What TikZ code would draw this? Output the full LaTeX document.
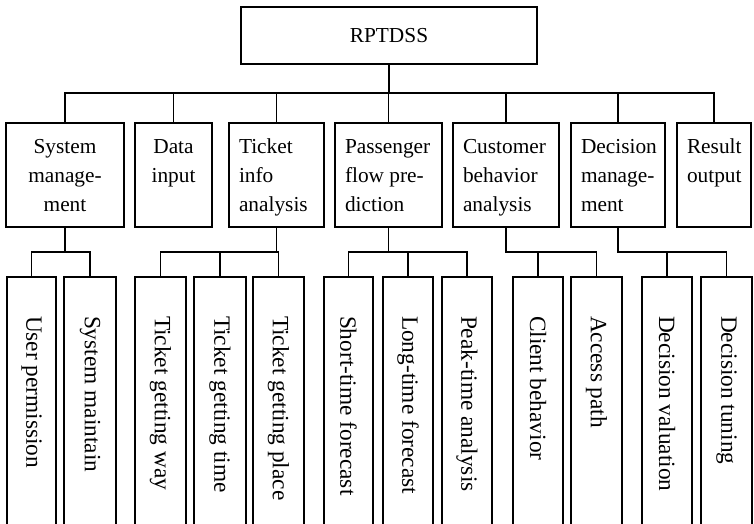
\documentclass[tikz,border=0pt]{standalone}
\usepackage{fontspec}
\setmainfont{Liberation Serif}
\usetikzlibrary{fit}
\begin{document}
\begin{tikzpicture}[x=0.75pt,y=-0.75pt,
  box/.style={draw, line width=1.1pt, inner sep=0pt, outer sep=0pt},
  lbl/.style={inner sep=0pt, outer sep=0pt, font=\fontsize{16}{21.4}\selectfont},
  leaflbl/.style={inner sep=0pt, outer sep=0pt, font=\fontsize{17.5}{21}\selectfont, rotate=-90, anchor=west},
  conn/.style={line width=1.1pt}]
\useasboundingbox (0,0) rectangle (754,524);
\clip (0,0) rectangle (754,524);
% root
\node[box, fit={(241,7)(537,64)}] (root) {};
\node[lbl] (troot) at (root.center) {RPTDSS};
% level 2
\node[box, fit={(6,123)(124,227)}] (sys) {};
\node[box, fit={(135,123)(212,227)}] (data) {};
\node[box, fit={(229,123)(324,227)}] (tick) {};
\node[box, fit={(335,123)(442,227)}] (pass) {};
\node[box, fit={(453,123)(559,227)}] (cust) {};
\node[box, fit={(571,123)(665,227)}] (dec) {};
\node[box, fit={(677,123)(751,227)}] (res) {};
\node[lbl, align=center, anchor=north] (tsys) at (65,134) {\strut System\\manage-\\ment};
\node[lbl, align=center, anchor=north] (tdata) at (173.5,134) {\strut Data\\input};
\node[lbl, align=left, anchor=north west] (ttick) at (239,134) {\strut Ticket\\info\\analysis};
\node[lbl, align=left, anchor=north west] (tpass) at (345,134) {\strut Passenger\\flow pre-\\diction};
\node[lbl, align=left, anchor=north west] (tcust) at (463,134) {\strut Customer\\behavior\\analysis};
\node[lbl, align=left, anchor=north west] (tdec) at (581,134) {\strut Decision\\manage-\\ment};
\node[lbl, align=left, anchor=north west] (tres) at (687,134) {\strut Result\\output};
% leaves
\node[box, fit={(7,277)(56,530)}] (l1) {};
\node[box, fit={(64,277)(116,530)}] (l2) {};
\node[box, fit={(135,277)(186,530)}] (l3) {};
\node[box, fit={(194,277)(246,530)}] (l4) {};
\node[box, fit={(253,277)(304,530)}] (l5) {};
\node[box, fit={(324,277)(373,530)}] (l6) {};
\node[box, fit={(383,277)(433,530)}] (l7) {};
\node[box, fit={(442,277)(492,530)}] (l8) {};
\node[box, fit={(513,277)(563,530)}] (l9) {};
\node[box, fit={(571,277)(622,530)}] (l10) {};
\node[box, fit={(642,277)(692,530)}] (l11) {};
\node[box, fit={(701,277)(752,530)}] (l12) {};
\node[leaflbl] (tl1) at ([yshift=-29.25pt]l1.north) {User permission};
\node[leaflbl] (tl2) at ([yshift=-29.25pt]l2.north) {System maintain};
\node[leaflbl] (tl3) at ([yshift=-29.25pt]l3.north) {Ticket getting way};
\node[leaflbl] (tl4) at ([yshift=-29.25pt]l4.north) {Ticket getting time};
\node[leaflbl] (tl5) at ([yshift=-29.25pt]l5.north) {Ticket getting place};
\node[leaflbl] (tl6) at ([yshift=-29.25pt]l6.north) {Short-time forecast};
\node[leaflbl] (tl7) at ([yshift=-29.25pt]l7.north) {Long-time forecast};
\node[leaflbl] (tl8) at ([yshift=-29.25pt]l8.north) {Peak-time analysis};
\node[leaflbl] (tl9) at ([yshift=-29.25pt]l9.north) {Client behavior};
\node[leaflbl] (tl10) at ([yshift=-29.25pt]l10.north) {Access path};
\node[leaflbl] (tl11) at ([yshift=-29.25pt]l11.north) {Decision valuation};
\node[leaflbl] (tl12) at ([yshift=-29.25pt]l12.north) {Decision tuning};
% connectors
\coordinate (busA) at (0,93);
\coordinate (busB) at (0,252);
\foreach \c in {sys,data,tick,pass,cust,dec,res}
  \draw[conn] (root.south) |- (\c.north |- busA) -- (\c.north);
\foreach \p/\c in {sys/l1,sys/l2,tick/l3,tick/l4,tick/l5,pass/l6,pass/l7,pass/l8,cust/l9,cust/l10,dec/l11,dec/l12}
  \draw[conn] (\p.south) |- (\c.north |- busB) -- (\c.north);
\end{tikzpicture}
\end{document}
